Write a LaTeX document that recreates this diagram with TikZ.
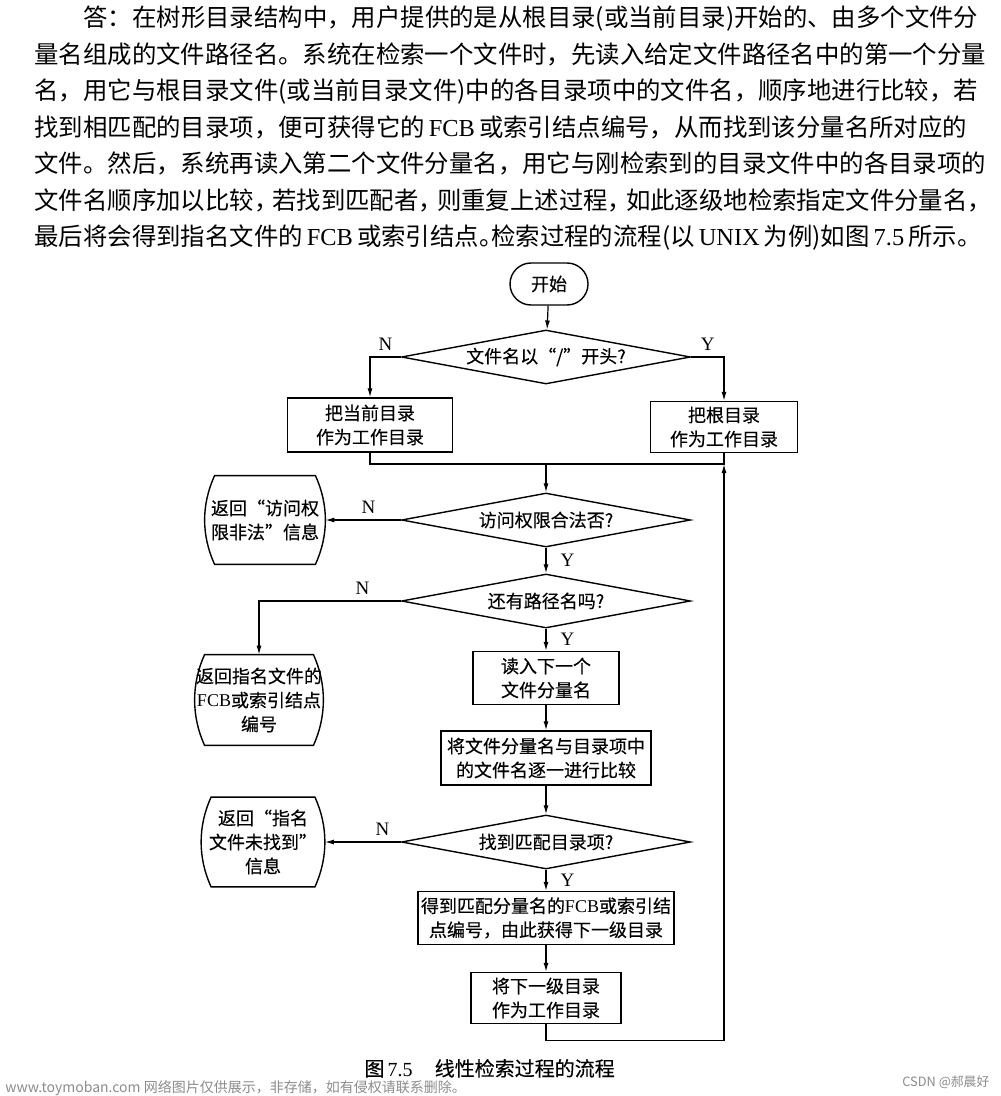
\documentclass[tikz,border=0pt]{standalone}
\usepackage{fontspec}
\setmainfont{Liberation Serif}
\newfontfamily\cjk{Noto Sans CJK SC}
\newfontfamily\cjkm[FakeBold=0.3]{Noto Sans CJK SC}
\usetikzlibrary{shapes.geometric,shapes.misc,arrows.meta}
\definecolor{wmgray}{HTML}{8C8C8C}
\newcommand\lat[1]{{\rmfamily #1}}

\begin{document}
\begin{tikzpicture}[x=0.5pt,y=-0.5pt,
    proc/.style={
      draw=black,
      line width=0.7pt,
      rectangle,
      align=center,
      inner sep=1pt,
      font=\cjkm\fontsize{9pt}{12pt}\selectfont
    }]
\tikzset{ask/.style = {diamond,draw,line width=0.7pt,aspect=5.35,inner sep=1pt,minimum width=144.5pt,minimum height=27pt,font=\cjkm\fontsize{9pt}{12pt}\selectfont}}
\tikzset{retbox/.style = {rectangle,align=center,inner sep=0pt,minimum height=44pt,font=\cjkm\fontsize{9pt}{12pt}\selectfont}}
\tikzset{edge/.style = {->,> = {Latex[length=4.5pt,width=2.5pt]},line width=0.6pt}}
\tikzset{yn/.style = {font=\fontsize{9.5pt}{10pt}\selectfont,inner sep=3pt}}
\tikzset{para/.style = {anchor=base west,inner sep=0pt,font=\cjk\fontsize{12.2pt}{18pt}\selectfont}}
\useasboundingbox (0,0) rectangle (1000,1096);
\fill[white] (0,0) rectangle (1000,1096);
% text above the chart
\node[para] (l1) at (83,27) {答：在树形目录结构中，用户提供的是从根目录(或当前目录)开始的、由多个文件分};
\node[para] (l2) at (34,64) {量名组成的文件路径名。系统在检索一个文件时，先读入给定文件路径名中的第一个分量};
\node[para] (l3) at (34,100) {名，用它与根目录文件(或当前目录文件)中的各目录项中的文件名，顺序地进行比较，若};
\node[para] (l4) at (34,137) {找到相匹配的目录项，便可获得它的\,\lat{FCB}\,或索引结点编号，从而找到该分量名所对应的};
\node[para] (l5) at (34,173) {文件。然后，系统再读入第二个文件分量名，用它与刚检索到的目录文件中的各目录项的};
\node[para] (l6) at (34,210) {文件名顺序加以比较，\hspace{-.25em}若找到匹配者，\hspace{-.25em}则重复上述过程，\hspace{-.25em}如此逐级地检索指定文件分量名，};
\node[para] (l7) at (34,246) {最后将会得到指名文件的\,\lat{FCB}\,或索引结点。\hspace{-.5em}检索过程的流程(以\,\lat{UNIX}\,为例)如图\,\lat{7.5}\,所示。};
% chart
\node[proc,rounded rectangle,minimum width=41pt,minimum height=21pt] (start) at (549,284) {开始};
\node[ask] (q1) at (546,357) {文件名以“/”开头?};
\node[proc,minimum width=82.5pt,minimum height=27pt] (cur) at (370,425) {把当前目录\\作为工作目录};
\node[proc,minimum width=73.5pt,minimum height=25.5pt] (root) at (724,427) {把根目录\\作为工作目录};
\coordinate (m) at (546,464);
\node[ask] (q2) at (546,520) {访问权限合法否?};
\node[retbox,minimum width=60pt] (r1) at (265,520) {返回“访问权\\限非法”信息};
\node[ask] (q3) at (546,601) {还有路径名吗?};
\node[retbox,minimum width=64pt,minimum height=45pt] (r2) at (259,700) {返回指名文件的\\\lat{FCB}或索引结点\\编号};
\node[proc,minimum width=73pt,minimum height=26.5pt] (read) at (546,678) {读入下一个\\文件分量名};
\node[proc,minimum width=105pt,minimum height=27pt] (cmp) at (546,758) {将文件分量名与目录项中\\的文件名逐一进行比较};
\node[ask] (q4) at (546,842) {找到匹配目录项?};
\node[retbox,minimum width=61.5pt,minimum height=44.5pt] (r3) at (263,842) {返回“指名\\文件未找到”\\信息};
\node[proc,minimum width=128pt,minimum height=26.5pt] (get) at (546,918) {得到匹配分量名的\lat{FCB}或索引结\\点编号，由此获得下一级目录};
\node[proc,minimum width=75pt,minimum height=25.5pt] (next) at (546,998) {将下一级目录\\作为工作目录};
% outlines of the return boxes
\foreach \r in {r1,r2,r3}
  \draw[line width=0.7pt] ([xshift=5pt]\r.north west) .. controls +(-13.3,29) and +(-13.3,-29) .. ([xshift=5pt]\r.south west)
    -- ([xshift=-5pt]\r.south east) .. controls +(13.3,-29) and +(13.3,29) .. ([xshift=-5pt]\r.north east) -- cycle;
\draw[edge] (start) to (q1);
\draw[edge] (q1.west) -| node[yn,pos=0.25,above] {N} (cur);
\draw[edge] (q1.east) -| node[yn,pos=0.25,above] {Y} (root);
\draw[line width=0.6pt] (cur) |- (m) -| (root);
\draw[edge] (m) to (q2);
\path[edge]
(q2.west) edge node[yn,pos=0.43,above] {N} (r1)
(q2) edge node[yn,right=4pt] {Y} (q3);
\draw[edge] (q3.west) -| node[yn,pos=0.135,above] {N} (r2);
\path[edge]
(q3) edge node[yn,right=4pt] {Y} (read)
(read) edge (cmp)
(cmp) edge (q4)
(q4.west) edge node[yn,pos=0.24,above] {N} (r3)
(q4) edge node[yn,right=4pt] {Y} (get)
(get) edge (next);
\draw[edge] (next.south) -- ++(0,16) -| (root.south |- m);
% caption and marks
\node[anchor=base west,inner sep=0pt,font=\cjkm\fontsize{10pt}{12pt}\selectfont] (cap) at (364,1076) {图\,\lat{7.5}\hspace{11pt}线性检索过程的流程};
\node[anchor=base west,inner sep=0pt,text=wmgray,font=\cjk\fontsize{7pt}{8pt}\selectfont] (wm) at (5,1092) {www.toymoban.com 网络图片仅供展示，非存储，如有侵权请联系删除。};
\node[anchor=base west,inner sep=0pt,text=wmgray,font=\cjk\fontsize{6.4pt}{8pt}\selectfont] (csdn) at (902,1086) {CSDN @郝晨好};
\end{tikzpicture}
\end{document}
